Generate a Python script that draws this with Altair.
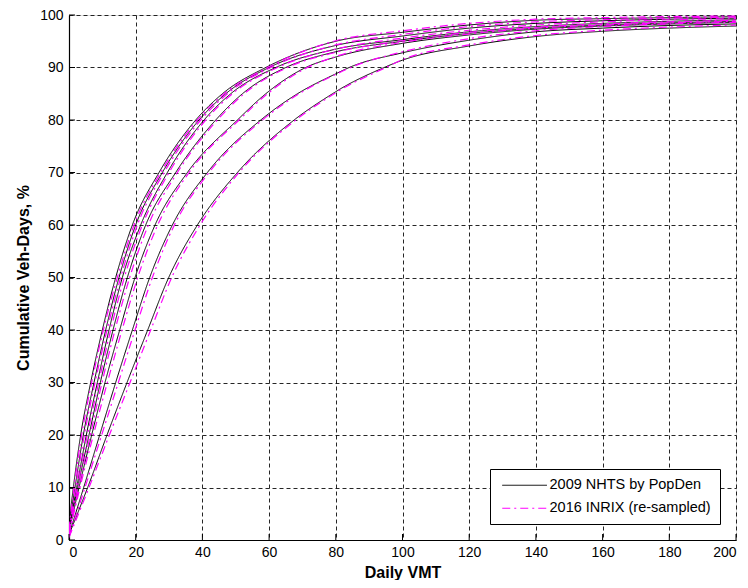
import altair as alt
import pandas as pd

# ---- data ----
SERIES = ["2009 NHTS by PopDen", "2016 INRIX (re-sampled)"]
COLORS = ["#000000", "#FF00FF"]

# x (Daily VMT) at which each curve reaches these cumulative levels
Y_LEVELS = [10, 20, 30, 40, 50, 60, 70, 80, 85, 90]
NHTS_X = [
    [1.3, 3.5, 6.5, 10.0, 14.0, 19.0, 27.0, 38.0, 46.0, 59.0],
    [1.8, 4.3, 7.5, 11.0, 15.0, 20.0, 28.0, 39.0, 47.0, 60.0],
    [2.3, 5.2, 8.5, 12.0, 16.0, 21.5, 29.5, 40.5, 48.5, 62.0],
    [2.6, 6.0, 9.4, 13.2, 17.5, 23.0, 32.0, 44.0, 52.0, 65.0],
    [3.0, 6.8, 10.8, 15.2, 19.8, 25.8, 35.5, 50.5, 59.0, 71.0],
    [4.4, 9.2, 14.0, 19.0, 24.2, 31.0, 41.5, 57.5, 68.5, 84.0],
    [5.6, 11.4, 17.4, 23.6, 29.9, 38.5, 50.5, 67.5, 79.0, 94.5],
]
INRIX_X = [
    [1.5, 3.8, 6.8, 10.3, 14.5, 19.5, 27.5, 38.5, 46.5, 59.5],
    [2.0, 4.6, 7.8, 11.4, 15.5, 20.5, 28.5, 39.5, 47.5, 60.5],
    [2.5, 5.5, 8.9, 12.5, 16.6, 22.0, 30.0, 41.0, 49.0, 62.5],
    [2.9, 6.4, 9.9, 13.8, 18.2, 23.8, 32.5, 44.5, 52.5, 65.5],
    [3.3, 7.3, 11.5, 15.9, 20.6, 26.6, 36.0, 51.0, 59.5, 71.5],
    [4.8, 9.8, 14.8, 19.8, 25.0, 31.6, 42.0, 58.0, 69.0, 84.5],
    [6.0, 12.1, 18.3, 24.5, 30.8, 39.3, 51.0, 68.0, 79.5, 95.0],
]
# cumulative share at VMT = 0
NHTS_START = [3.0, 2.5, 2.0, 2.0, 1.5, 1.0, 1.0]
INRIX_START = [2.0, 1.5, 1.5, 1.0, 1.0, 0.5, 0.5]

# cumulative share at these Daily VMT values (upper tail)
TAIL_X = [80, 100, 120, 140, 160, 180, 200]
NHTS_TAIL_Y = [
    [95.0, 96.7, 98.1, 99.0, 99.3, 99.5, 99.7],
    [94.2, 96.0, 97.5, 98.4, 98.9, 99.2, 99.4],
    [93.5, 95.3, 96.8, 97.8, 98.4, 98.8, 99.1],
    [93.0, 95.0, 96.5, 97.5, 98.1, 98.5, 98.8],
    [92.0, 94.6, 96.2, 97.3, 97.9, 98.3, 98.6],
    [88.8, 92.8, 95.2, 96.8, 97.5, 98.0, 98.3],
    [85.4, 91.4, 94.1, 95.9, 96.9, 97.5, 97.9],
]
INRIX_TAIL_Y = [
    [95.1, 97.0, 98.4, 99.2, 99.5, 99.7, 99.8],
    [94.3, 96.3, 97.8, 98.7, 99.1, 99.4, 99.6],
    [93.5, 95.6, 97.1, 98.1, 98.7, 99.1, 99.3],
    [92.9, 95.1, 96.7, 97.7, 98.3, 98.7, 99.0],
    [92.1, 94.8, 96.4, 97.5, 98.1, 98.5, 98.8],
    [88.7, 93.0, 95.5, 97.0, 97.8, 98.3, 98.6],
    [85.2, 91.5, 94.3, 96.1, 97.1, 97.7, 98.1],
]

X_TICKS = list(range(0, 201, 20))
Y_TICKS = list(range(0, 101, 10))

# ---- build table ----
rows = []
for s_idx, (xs_all, starts, tails) in enumerate(
    [(NHTS_X, NHTS_START, NHTS_TAIL_Y), (INRIX_X, INRIX_START, INRIX_TAIL_Y)]
):
    for c in range(len(xs_all)):
        pts = [(0.0, starts[c])]
        pts += list(zip(xs_all[c], Y_LEVELS))
        pts += list(zip(TAIL_X, tails[c]))
        pts.sort(key=lambda p: p[0])
        for k, (x, y) in enumerate(pts):
            rows.append({"source": SERIES[s_idx], "curve": f"{s_idx}-{c}",
                         "vmt": x, "cum": y, "k": k})
df = pd.DataFrame(rows)

FONT = "Liberation Sans"

xscale = alt.Scale(domain=[0, 200], nice=False, zero=False)
yscale = alt.Scale(domain=[0, 100], nice=False, zero=False)

legend_kw = dict(title=None, orient="none", legendX=421, legendY=454,
                 symbolType="M0,0H8", symbolSize=125, symbolStrokeWidth=1,
                 symbolOffset=-4, labelOffset=40,
                 labelFont=FONT, labelFontSize=14.5, labelColor="#000",
                 strokeColor="#000", fillColor="#fff", padding=9,
                 rowPadding=8, labelLimit=300)

color = alt.Color("source:N", scale=alt.Scale(domain=SERIES, range=COLORS),
                  legend=alt.Legend(**legend_kw))
dash = alt.StrokeDash("source:N", scale=alt.Scale(domain=SERIES, range=[[1, 0], [8, 4, 2, 4]]),
                      legend=alt.Legend(**legend_kw))

xaxis = alt.Axis(values=X_TICKS, title="Daily VMT", grid=True, gridDash=[4, 3],
                 gridColor="#000", gridOpacity=0.85, gridWidth=1, tickSize=0,
                 labelPadding=5, labelFont=FONT, labelFontSize=14, labelColor="#000",
                 titleFont=FONT, titleFontSize=16, titleFontWeight="bold", titleColor="#000",
                 titlePadding=5, domainColor="#000", domainWidth=1.2)
yaxis = alt.Axis(values=Y_TICKS, title="Cumulative Veh-Days, %", grid=True, gridDash=[4, 3],
                 gridColor="#000", gridOpacity=0.85, gridWidth=1, tickSize=0,
                 labelPadding=6, labelFont=FONT, labelFontSize=14, labelColor="#000",
                 titleFont=FONT, titleFontSize=16, titleFontWeight="bold", titleColor="#000",
                 titlePadding=8, domainColor="#000", domainWidth=1.2)

base = alt.Chart(df)
black = base.transform_filter(alt.datum.source == SERIES[0]).mark_line(
    strokeWidth=1, clip=True, interpolate="monotone").encode(
    x=alt.X("vmt:Q", scale=xscale, axis=xaxis),
    y=alt.Y("cum:Q", scale=yscale, axis=yaxis),
    color=color, strokeDash=dash, detail="curve:N", order="k:Q")
mag = base.transform_filter(alt.datum.source == SERIES[1]).mark_line(
    strokeWidth=1.2, clip=True, interpolate="monotone").encode(
    x=alt.X("vmt:Q", scale=xscale),
    y=alt.Y("cum:Q", scale=yscale),
    color=color, strokeDash=dash, detail="curve:N", order="k:Q")

xt = alt.Chart(pd.DataFrame({"t": X_TICKS})).mark_rule(color="#000", strokeWidth=1).encode(
    x=alt.X("t:Q", scale=xscale), y=alt.value(525), y2=alt.value(519))
yt = alt.Chart(pd.DataFrame({"t": Y_TICKS})).mark_rule(color="#000", strokeWidth=1).encode(
    y=alt.Y("t:Q", scale=yscale), x=alt.value(0), x2=alt.value(6))

chart = alt.layer(black, mag, xt, yt).properties(
    width=667, height=525,
    autosize=alt.AutoSizeParams(type="none"),
    padding={"left": 61, "top": 7, "right": 4, "bottom": 40},
).configure_view(stroke=None).configure(background="#fff")

chart.save("out.html", embed_options={"renderer": "svg", "actions": False})
